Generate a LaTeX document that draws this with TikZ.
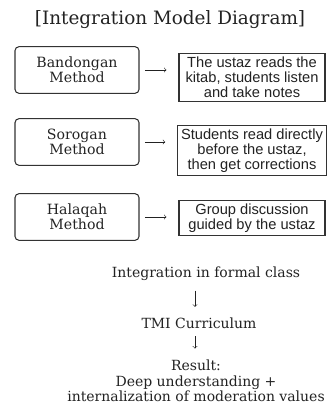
\documentclass[tikz,border=0pt]{standalone}
\usepackage{fontspec}
\setmainfont{DejaVu Serif}
\setsansfont{Liberation Sans}
\usepackage{tikz}
\usepackage{xcolor}

\definecolor{ink}{HTML}{222222}
\definecolor{rim}{HTML}{333333}

\tikzset{
    method/.style={draw=rim, line width=0.8pt, rounded corners=3pt, align=center,
        minimum width=93pt, minimum height=35pt, inner sep=2pt, text=ink,
        font=\fontsize{10.6}{11.25}\selectfont},
    desc/.style={draw=rim, line width=0.8pt, align=center, minimum width=109.5pt,
        inner sep=2.5pt, text=ink, font=\sffamily\fontsize{11}{11.25}\selectfont},
    step line/.style={align=center, text=ink, font=\fontsize{10.5}{11.5}\selectfont},
    link/.style={->, thin, draw=ink}
}

\begin{document}
\begin{tikzpicture}[x=0.75pt, y=-0.75pt]
    \useasboundingbox (0,0) rectangle (326,403);

    % title
    \node[text=ink, font=\fontsize{13.8}{15}\selectfont] (title) at (170,20)
        {[Integration Model Diagram]};

    % methods and what they mean
    \foreach \i/\meth/\desc/\ym/\yd in {
        1/{Bandongan\\Method}/{The ustaz reads the\\kitab, students listen\\and take notes}/70/77.5,
        2/{Sorogan\\Method}/{Students read directly\\before the ustaz,\\then get corrections}/142/150.5,
        3/{Halaqah\\Method}/{Group discussion\\guided by the ustaz}/217/218}
    {
        \node[method] (m\i) at (77,\ym) {\meth};
        \node[desc] (d\i) at (252,\yd) {\desc};
        \draw[link, shorten <=4pt, shorten >=9pt] (m\i.east) -- (m\i.east -| d\i.west);
    }

    % flow down to the result
    \node[step line] (integ) at (206,274) {Integration in formal class};
    \node[step line] (tmi) at (199,323) {TMI Curriculum};
    \node[step line] (result) at (196,381) {Result:\\Deep understanding +\\internalization of moderation values};
    \draw[link, shorten <=3.75pt, shorten >=4.5pt] (integ.south -| 195,0) -- (tmi.north -| 195,0);
    \draw[link, shorten <=2.25pt, shorten >=5.25pt] (tmi.south -| 195,0) -- (result.north -| 195,0);
\end{tikzpicture}
\end{document}
